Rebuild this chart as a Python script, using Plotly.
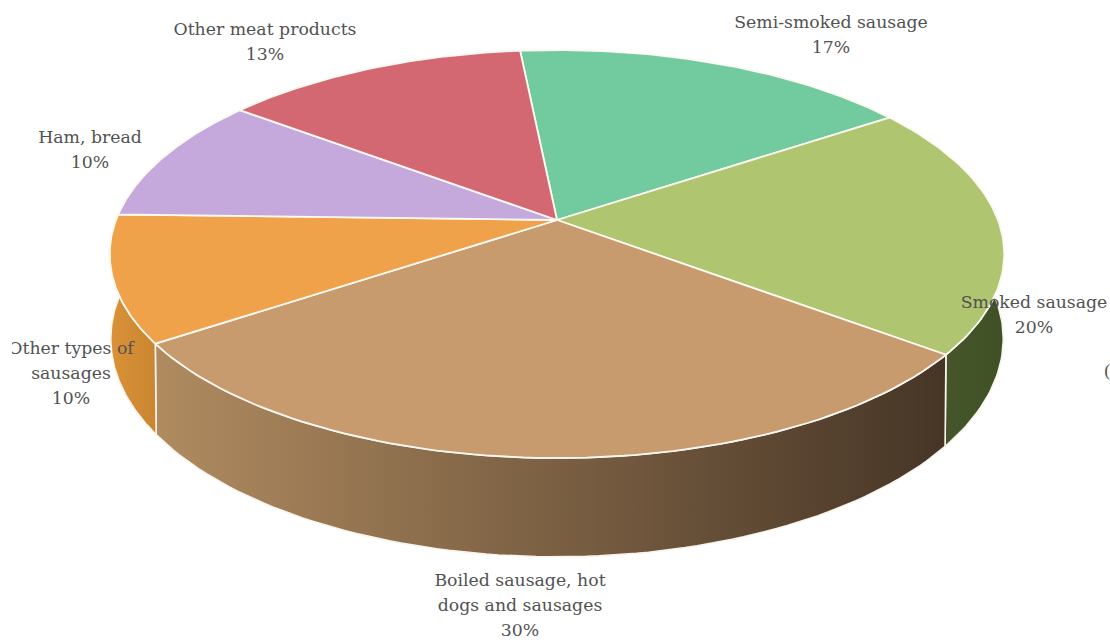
import numpy as np
import plotly.graph_objects as go

# Slices, clockwise from the red/green boundary
categories = ["Semi-smoked sausage", "Smoked sausage", "Boiled sausage, hot<br>dogs and sausages",
              "Other types of<br>sausages", "Ham, bread", "Other meat products"]
values = [17, 20, 30, 10, 10, 13]
top_colors = ["#72CB9E", "#B0C56F", "#C89B6E", "#F0A24A", "#C5A9DD", "#D36772"]
wall_left = ["#3F5026", "#4A5C2C", "#B08B60", "#DB9238", "#8A70A5", "#9C4A52"]
wall_right = ["#3F5026", "#3F5026", "#463526", "#C98530", "#8A70A5", "#9C4A52"]
label_x = [831, 1034, 520, 71, 90, 265]
label_y = [24, 304, 582, 350, 139, 31]

START_DEG = -5.6
CX = 557
K = -0.1667
TOP_A, TOP_B, TOP_C = 441, 161.7, 220
BOT_A, BOT_B, BOT_C = 440, 161.5, 302.5
LINE_PITCH = 24.6
FONT = dict(family="DejaVu Serif", size=17.3, color="#525252")


def rim(theta, a, b, c):
    u, v = np.sin(theta), -np.cos(theta)
    d = 1 + K * v
    return CX + a * u / d, (c + b * v) / d


fig = go.Figure()
edges = np.radians(START_DEG + np.concatenate([[0], np.cumsum(values)]) * 3.6)

# side walls first; the top faces cover their hidden parts
for i in range(len(values)):
    th = np.linspace(edges[i], edges[i + 1], 80)
    tx, ty = rim(th, TOP_A, TOP_B, TOP_C)
    bx, by = rim(th, BOT_A, BOT_B, BOT_C)
    x = np.concatenate([tx, bx[::-1], tx[:1]])
    y = np.concatenate([ty, by[::-1], ty[:1]])
    fig.add_trace(go.Scatter(
        x=x, y=y, mode="lines", fill="toself",
        line=dict(color="#F8F4EC", width=1.6),
        fillgradient=dict(type="horizontal",
                          colorscale=[[0, wall_left[i]], [1, wall_right[i]]]),
        hoverinfo="skip", showlegend=False))

# top faces
for i in range(len(values)):
    th = np.linspace(edges[i], edges[i + 1], 80)
    rx, ry = rim(th, TOP_A, TOP_B, TOP_C)
    x = np.concatenate([[CX], rx, [CX]])
    y = np.concatenate([[TOP_C], ry, [TOP_C]])
    fig.add_trace(go.Scatter(
        x=x, y=y, mode="lines", fill="toself", fillcolor=top_colors[i],
        line=dict(color="#FCF9F2", width=1.8),
        hoverinfo="skip", showlegend=False))

# labels, one text node per line to get the reference's line pitch
tx, ty, tt = [], [], []
for name, v, lx, ly in zip(categories, values, label_x, label_y):
    for j, line in enumerate(name.split("<br>") + [f"{v}%"]):
        tx.append(lx)
        ty.append(ly + j * LINE_PITCH)
        tt.append(line)
fig.add_trace(go.Scatter(x=tx, y=ty, text=tt, mode="text", textposition="middle center",
                         textfont=FONT, cliponaxis=True, hoverinfo="skip", showlegend=False))
# remnant of a label cut off by the right edge
fig.add_trace(go.Scatter(x=[1107], y=[373], text=["("], mode="text", textposition="middle center",
                         textfont=FONT, cliponaxis=True, hoverinfo="skip", showlegend=False))

fig.update_layout(
    width=1110, height=640, margin=dict(l=12, r=0, t=0, b=0),
    paper_bgcolor="white", plot_bgcolor="white", showlegend=False,
    xaxis=dict(range=[12, 1110], visible=False, fixedrange=True),
    yaxis=dict(range=[640, 0], visible=False, fixedrange=True),
)
fig.write_html("out.html", config=dict(displayModeBar=False),
               post_script="document.body.style.margin='0';document.body.style.overflow='hidden';")
